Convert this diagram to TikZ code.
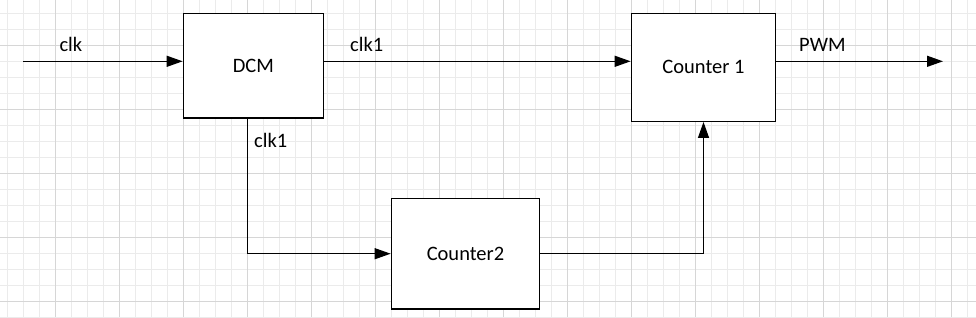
\documentclass[tikz,border=0pt]{standalone}
\usepackage{fontspec}
\setmainfont{Carlito}
\usetikzlibrary{arrows.meta}
\definecolor{gminor}{HTML}{EBEBEB}
\definecolor{gmajor}{HTML}{D6D6D6}
\tikzset{
  blockbox/.style={draw=black, line width=1.3pt, fill=white, inner sep=0pt,
    font=\fontsize{20.5}{24}\selectfont},
  wire/.style={draw=black, line width=1.3pt, -{Triangle[length=16pt,width=11pt]}},
  lbl/.style={anchor=base west, inner sep=0pt, font=\fontsize{20.5}{24}\selectfont},
  gridminor/.style={draw=gminor, line width=1pt},
  gridmajor/.style={draw=gmajor, line width=1pt}
}
\begin{document}
\begin{tikzpicture}[x=1pt,y=-1pt]
\useasboundingbox (0,0) rectangle (976,317);
\fill[white] (0,0) rectangle (976,317);
% grid
\foreach \i in {0,...,60} \draw[gridminor] ({7.3+16*\i},0) -- ({7.3+16*\i},317);
\foreach \j in {0,...,19} \draw[gridminor] (0,{13.3+16*\j}) -- (976,{13.3+16*\j});
\foreach \i in {0,...,14} \draw[gridmajor] ({55.3+64*\i},0) -- ({55.3+64*\i},317);
\foreach \j in {0,...,4} \draw[gridmajor] (0,{45.3+64*\j}) -- (976,{45.3+64*\j});
% blocks
\node[blockbox, minimum width=140pt, minimum height=104.7pt] (dcm) at (253.3,65.7) {DCM};
\node[blockbox, minimum width=144.4pt, minimum height=108pt] (c1) at (703.5,67.3) {Counter 1};
\node[blockbox, minimum width=148.4pt, minimum height=110.7pt] (c2) at (465.5,253.7) {Counter2};
% coordinates
\coordinate (in) at (23.3,61.3);
\coordinate (out) at (943,61.3);
\coordinate (down) at (247.3,0);
% connectors
\draw[wire] (in) -- (in -| dcm.west);
\draw[wire] (in -| dcm.east) -- (in -| c1.west);
\draw[wire] (in -| c1.east) -- (out);
\draw[wire] (down |- dcm.south) |- (c2.west);
\draw[wire] (c2.east) -| (c1.south);
% labels
\node[lbl] (lclk) at (59.3,51.7) {clk};
\node[lbl] (lclka) at (350,51.7) {clk1};
\node[lbl] (lpwm) at (799,51.7) {PWM};
\node[lbl] (lclkb) at (254,147.7) {clk1};
\end{tikzpicture}
\end{document}
